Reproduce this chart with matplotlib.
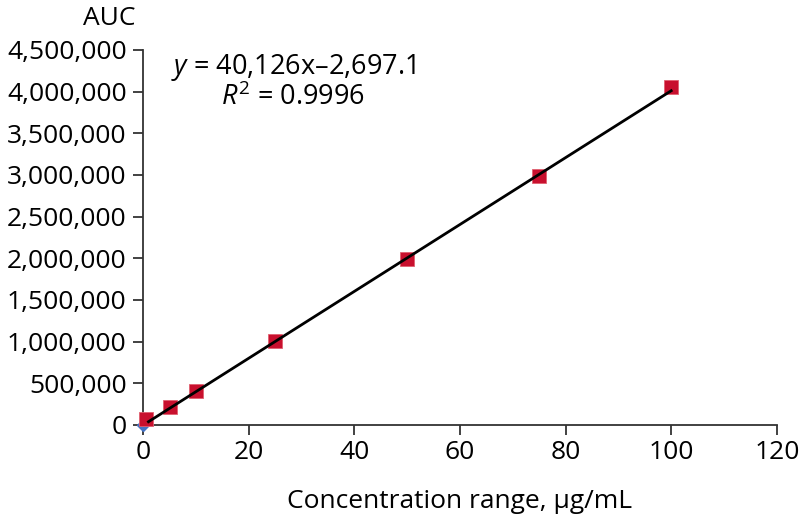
import numpy as np
import matplotlib.pyplot as plt
from matplotlib.ticker import FuncFormatter

plt.rcParams["font.family"] = ["Open Sans", "DejaVu Sans"]
plt.rcParams["mathtext.fontset"] = "custom"
plt.rcParams["mathtext.rm"] = "Open Sans"
plt.rcParams["mathtext.it"] = "Open Sans:italic"

# calibration data
conc = [0.5, 5, 10, 25, 50, 75, 100]
auc = [70000, 210000, 410000, 1005000, 1985000, 2990000, 4050000]
blank_x = [0]
blank_y = [0]
slope = 40126
intercept = -2697.1

xticks = [0, 20, 40, 60, 80, 100, 120]
yticks = np.arange(0, 4500001, 500000)

fig = plt.figure(figsize=(8, 5.2), dpi=100)
ax = fig.add_axes([0.179, 0.183, 0.792, 0.721])

ax.plot(blank_x, blank_y, "D", color="#4472C4", markersize=6, clip_on=False, zorder=2)
ax.plot(conc, auc, "s", color="#C8102E", markeredgecolor="#E06070", markeredgewidth=0.6,
        markersize=10.5, clip_on=False, zorder=3)
xfit = np.array([1, conc[-1]])
ax.plot(xfit, slope * xfit + intercept, color="black", linewidth=2, zorder=4)

ax.set_xlim(0, 120)
ax.set_ylim(0, 4500000)
ax.set_xticks(xticks)
ax.set_yticks(yticks)
ax.yaxis.set_major_formatter(FuncFormatter(lambda v, p: f"{int(v):,}"))
ax.tick_params(labelsize=19, length=7, width=1.3, color="#333333")
ax.tick_params(axis="y", pad=5)
ax.tick_params(axis="x", pad=4)
ax.spines[["top", "right"]].set_visible(False)
ax.spines[["left", "bottom"]].set_linewidth(1.3)
ax.spines[["left", "bottom"]].set_color("#333333")

ax.set_xlabel("Concentration range, µg/mL", fontsize=19, labelpad=17)
fig.text(0.169, 0.965, "AUC", fontsize=19, va="center", ha="right")

ax.text(0.237, 0.952, r"$y$ = 40,126x–2,697.1", transform=ax.transAxes,
        fontsize=19.5, ha="center", va="center")
ax.text(0.237, 0.872, r"$R^{\mathrm{2}}$ = 0.9996", transform=ax.transAxes,
        fontsize=19.5, ha="center", va="center")

fig.savefig("out.png", dpi=100)
